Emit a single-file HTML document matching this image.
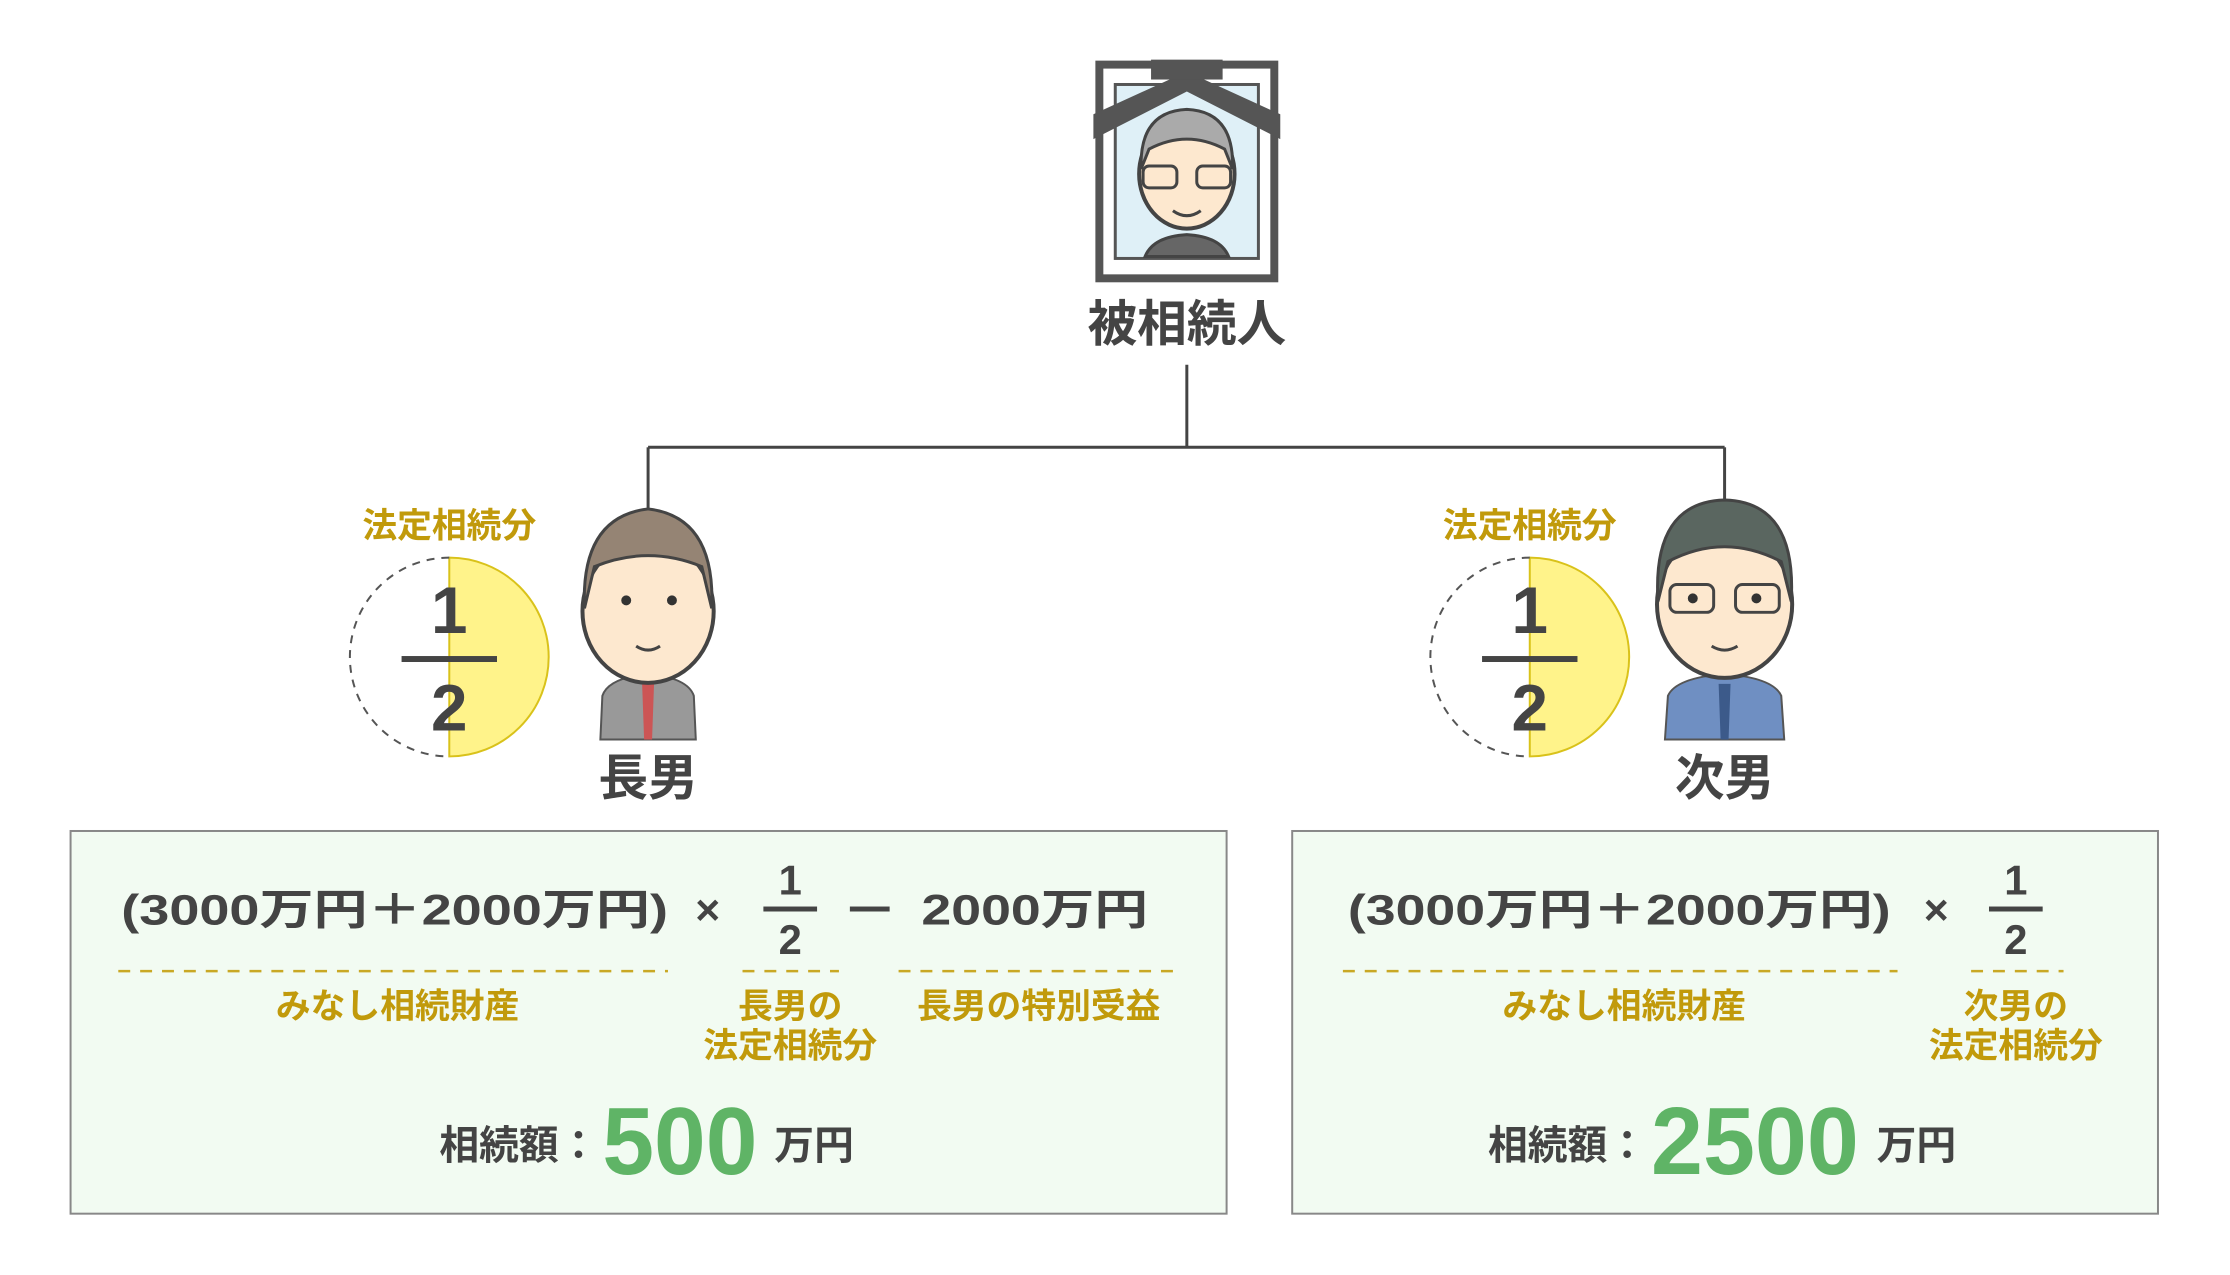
<!DOCTYPE html>
<html><head><meta charset="utf-8"><style>
html,body{margin:0;padding:0;background:#fff;}
svg{display:block;}
text{font-family:"Liberation Sans","Noto Sans CJK JP",sans-serif;font-weight:bold;}
</style></head><body>
<svg width="2230" height="1275" viewBox="0 0 2230 1275" xmlns="http://www.w3.org/2000/svg">
<g transform="scale(0.994)">
<!-- connectors -->
<g stroke="#444" stroke-width="3" fill="none">
<line x1="1194" y1="367" x2="1194" y2="450"/>
<line x1="652" y1="450" x2="1735" y2="450"/>
<line x1="652" y1="450" x2="652" y2="512"/>
<line x1="1735" y1="450" x2="1735" y2="505"/>
</g>
<!-- portrait frame -->
<g>
<rect x="1106" y="65" width="176" height="215" fill="#fff" stroke="#555" stroke-width="8"/>
<rect x="1122" y="85" width="144" height="175" fill="#dff0f7" stroke="#555" stroke-width="3"/>
<ellipse cx="1194" cy="175" rx="48" ry="55" fill="#fde8cf" stroke="#444" stroke-width="4"/>
<path d="M1148 170 Q1146 112 1194 110 Q1242 112 1240 170 L1232 150 Q1194 130 1156 150 Z" fill="#aaa" stroke="#444" stroke-width="3"/>
<rect x="1150" y="167" width="34" height="22" rx="6" fill="none" stroke="#444" stroke-width="3"/>
<rect x="1204" y="167" width="34" height="22" rx="6" fill="none" stroke="#444" stroke-width="3"/>
<path d="M1180 212 Q1194 222 1208 212" stroke="#444" stroke-width="3" fill="none"/>
<path d="M1152 258 Q1160 238 1194 236 Q1228 238 1236 258 Z" fill="#666" stroke="#444" stroke-width="3"/>
<path d="M1100 115 L1194 72 L1288 115 L1288 140 L1194 92 L1100 140 Z" fill="#555"/>
<rect x="1158" y="60" width="72" height="20" fill="#555"/>
</g>
<text x="1194" y="343" font-size="50" fill="#444" text-anchor="middle">被相続人</text>

<!-- left heir -->
<text x="452" y="541" font-size="35" fill="#c19a0b" text-anchor="middle">法定相続分</text>
<path d="M452 561 A100 100 0 0 1 452 761 Z" fill="#fff38a" stroke="#d9c21a" stroke-width="2"/>
<path d="M452 561 A100 100 0 0 0 452 761" fill="none" stroke="#555" stroke-width="2" stroke-dasharray="8 7"/>
<text x="452" y="637" font-size="66" fill="#444" text-anchor="middle" font-weight="normal">1</text>
<rect x="404" y="660" width="96" height="6" fill="#444"/>
<text x="452" y="735" font-size="66" fill="#444" text-anchor="middle" font-weight="normal">2</text>
<g>
<path d="M604 744 L606 700 Q612 682 652 678 Q692 682 698 700 L700 744 Z" fill="#999" stroke="#555" stroke-width="2"/>
<path d="M646 688 L658 688 L656 744 L648 744 Z" fill="#c55"/>
<ellipse cx="652" cy="615" rx="66" ry="72" fill="#fde8cf" stroke="#444" stroke-width="4"/>
<path d="M588 612 Q584 520 652 512 Q720 520 716 612 L706 570 Q652 548 598 570 Z" fill="#958474" stroke="#444" stroke-width="3"/>
<circle cx="630" cy="604" r="5" fill="#333"/><circle cx="676" cy="604" r="5" fill="#333"/>
<path d="M640 650 Q652 658 664 650" stroke="#444" stroke-width="3" fill="none"/>
</g>
<text x="652" y="800" font-size="50" fill="#444" text-anchor="middle">長男</text>

<!-- right heir -->
<text x="1539" y="541" font-size="35" fill="#c19a0b" text-anchor="middle">法定相続分</text>
<path d="M1539 561 A100 100 0 0 1 1539 761 Z" fill="#fff38a" stroke="#d9c21a" stroke-width="2"/>
<path d="M1539 561 A100 100 0 0 0 1539 761" fill="none" stroke="#555" stroke-width="2" stroke-dasharray="8 7"/>
<text x="1539" y="637" font-size="66" fill="#444" text-anchor="middle" font-weight="normal">1</text>
<rect x="1491" y="660" width="96" height="6" fill="#444"/>
<text x="1539" y="735" font-size="66" fill="#444" text-anchor="middle" font-weight="normal">2</text>
<g>
<path d="M1675 744 L1678 700 Q1686 682 1735 678 Q1784 682 1792 700 L1795 744 Z" fill="#6f8fc2" stroke="#555" stroke-width="2"/>
<path d="M1729 688 L1741 688 L1739 744 L1731 744 Z" fill="#3c5a8a"/>
<ellipse cx="1735" cy="608" rx="68" ry="74" fill="#fde8cf" stroke="#444" stroke-width="4"/>
<path d="M1668 605 Q1662 505 1735 503 Q1808 505 1802 605 L1792 565 Q1735 535 1678 565 Z" fill="#5a6660" stroke="#444" stroke-width="3"/>
<rect x="1680" y="588" width="44" height="28" rx="7" fill="none" stroke="#444" stroke-width="3"/>
<rect x="1746" y="588" width="44" height="28" rx="7" fill="none" stroke="#444" stroke-width="3"/>
<circle cx="1703" cy="602" r="5" fill="#333"/><circle cx="1767" cy="602" r="5" fill="#333"/>
<path d="M1722 650 Q1735 658 1748 650" stroke="#444" stroke-width="3" fill="none"/>
</g>
<text x="1735" y="800" font-size="50" fill="#444" text-anchor="middle">次男</text>

<!-- boxes -->
<rect x="71" y="836" width="1163" height="385" fill="#f2fbf2" stroke="#888" stroke-width="2"/>
<rect x="1300" y="836" width="871" height="385" fill="#f2fbf2" stroke="#888" stroke-width="2"/>

<g font-size="43" fill="#444">
<text x="122" y="930" textLength="550" lengthAdjust="spacingAndGlyphs">(3000万円＋2000万円)</text>
<text x="712" y="930" text-anchor="middle" font-weight="normal">×</text>
<text x="927" y="930" textLength="228" lengthAdjust="spacingAndGlyphs">2000万円</text>
<text x="1356" y="930" textLength="546" lengthAdjust="spacingAndGlyphs">(3000万円＋2000万円)</text>
<text x="1948" y="930" text-anchor="middle" font-weight="normal">×</text>
</g>
<rect x="855" y="912" width="40" height="5" fill="#444"/>
<g font-size="42" fill="#444" text-anchor="middle" font-weight="normal">
<text x="795" y="900">1</text><text x="795" y="960">2</text>
<text x="2028" y="900">1</text><text x="2028" y="960">2</text>
</g>
<rect x="768" y="912" width="54" height="5" fill="#444"/>
<rect x="2001" y="912" width="54" height="5" fill="#444"/>

<g stroke="#c9a825" stroke-width="2.5" stroke-dasharray="12 10">
<line x1="119" y1="977" x2="672" y2="977"/>
<line x1="747" y1="977" x2="844" y2="977"/>
<line x1="904" y1="977" x2="1187" y2="977"/>
<line x1="1351" y1="977" x2="1909" y2="977"/>
<line x1="1983" y1="977" x2="2076" y2="977"/>
</g>
<g font-size="35" fill="#c19a0b" text-anchor="middle">
<text x="400" y="1024">みなし相続財産</text>
<text x="795" y="1024">長男の</text>
<text x="795" y="1064">法定相続分</text>
<text x="1045" y="1024">長男の特別受益</text>
<text x="1634" y="1024">みなし相続財産</text>
<text x="2028" y="1024">次男の</text>
<text x="2028" y="1064">法定相続分</text>
</g>

<text x="442" y="1166" font-size="40" fill="#444">相続額：</text>
<text x="606" y="1181" font-size="96" fill="#5fb466" textLength="156" lengthAdjust="spacingAndGlyphs">500</text>
<text x="779" y="1166" font-size="40" fill="#444">万円</text>
<text x="1497" y="1166" font-size="40" fill="#444">相続額：</text>
<text x="1661" y="1181" font-size="96" fill="#5fb466" textLength="209" lengthAdjust="spacingAndGlyphs">2500</text>
<text x="1888" y="1166" font-size="40" fill="#444">万円</text>
</g>
</svg>
</body></html>
